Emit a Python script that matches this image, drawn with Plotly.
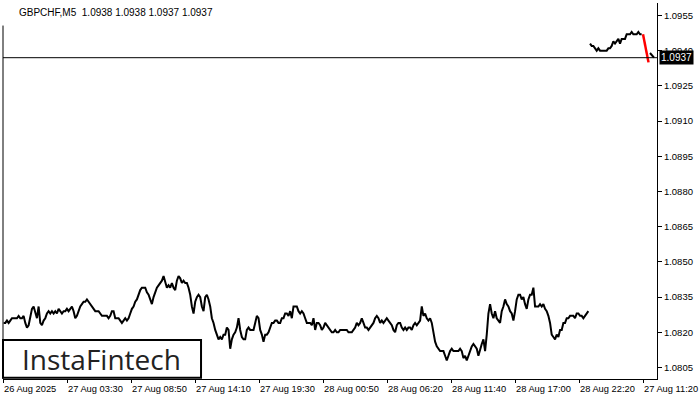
import plotly.graph_objects as go

# ---------------- data ----------------
symbol_title = "GBPCHF,M5  1.0938 1.0938 1.0937 1.0937"
last_price = 1.0937

# chart is read every 5/3 bars (one bar = 5 minutes)
SAMPLE_BARS = 5 / 3

# main block of prices (26 Aug 2025 -> 28 Aug 22:20)
main_close = [
    1.0824, 1.0824, 1.0825, 1.0824, 1.0825, 1.0826, 1.0826, 1.0826, 1.0826, 1.0827,
    1.0826, 1.0826, 1.0827, 1.0824, 1.0822, 1.0823, 1.0826, 1.0830, 1.0831, 1.0828,
    1.0826, 1.0831, 1.0824, 1.0823, 1.0825, 1.0826, 1.0828, 1.0829, 1.0828, 1.0829,
    1.0828, 1.0829, 1.0828, 1.0830, 1.0829, 1.0828, 1.0829, 1.0829, 1.0830, 1.0829,
    1.0830, 1.0831, 1.0829, 1.0826, 1.0827, 1.0829, 1.0831, 1.0832, 1.0833, 1.0833,
    1.0834, 1.0833, 1.0832, 1.0831, 1.0830, 1.0829, 1.0829, 1.0829,
    # 27 Aug 03:30 area
    1.0828, 1.0827, 1.0827, 1.0827, 1.0827, 1.0826, 1.0827, 1.0829, 1.0829, 1.0826,
    1.0826, 1.0826, 1.0825, 1.0824, 1.0825, 1.0826, 1.0825, 1.0826, 1.0828, 1.0830,
    1.0831, 1.0833, 1.0834, 1.0836, 1.0838, 1.0839, 1.0839, 1.0839, 1.0837, 1.0836,
    1.0834, 1.0832, 1.0835, 1.0837, 1.0839, 1.0840, 1.0841, 1.0842, 1.0844, 1.0841,
    1.0839, 1.0840, 1.0839, 1.0841, 1.0839, 1.0838, 1.0842, 1.0844, 1.0843, 1.0841,
    1.0842, 1.0841, 1.0841, 1.0839, 1.0836, 1.0831, 1.0828, 1.0833, 1.0835, 1.0836,
    1.0835,
    # 27 Aug 14:10 area
    1.0831, 1.0829, 1.0835, 1.0836, 1.0834, 1.0831, 1.0826, 1.0824, 1.0821, 1.0819,
    1.0817, 1.0818, 1.0817, 1.0819, 1.0819, 1.0822, 1.0821, 1.0813, 1.0817, 1.0819,
    1.0820, 1.0822, 1.0826, 1.0821, 1.0818, 1.0817, 1.0817, 1.0821, 1.0822, 1.0821,
    1.0821, 1.0821, 1.0824, 1.0827, 1.0826, 1.0821, 1.0819, 1.0816, 1.0819, 1.0819,
    1.0820, 1.0822, 1.0824, 1.0824, 1.0825, 1.0825, 1.0824, 1.0824, 1.0826, 1.0826,
    1.0828, 1.0828, 1.0827, 1.0829, 1.0826, 1.0831, 1.0831, 1.0831, 1.0829, 1.0828,
    # 28 Aug 00:50 area
    1.0829, 1.0828, 1.0826, 1.0824, 1.0824, 1.0824, 1.0823, 1.0826, 1.0821, 1.0824,
    1.0824, 1.0823, 1.0821, 1.0822, 1.0824, 1.0823, 1.0822, 1.0821, 1.0820, 1.0820,
    1.0821, 1.0820, 1.0820, 1.0821, 1.0821, 1.0821, 1.0821, 1.0821, 1.0820, 1.0820,
    1.0820, 1.0821, 1.0822, 1.0824, 1.0823, 1.0824, 1.0826, 1.0824, 1.0822, 1.0822,
    1.0821, 1.0822, 1.0823, 1.0824, 1.0826, 1.0827, 1.0826, 1.0824, 1.0825, 1.0824,
    1.0825, 1.0826, 1.0825, 1.0824, 1.0823, 1.0821, 1.0820, 1.0823, 1.0824, 1.0824,
    # 28 Aug 06:20 area
    1.0822, 1.0821, 1.0822, 1.0821, 1.0822, 1.0822, 1.0821, 1.0823, 1.0824, 1.0823,
    1.0824, 1.0825, 1.0831, 1.0827, 1.0828, 1.0826, 1.0825, 1.0826, 1.0824, 1.0819,
    1.0816, 1.0814, 1.0813, 1.0812, 1.0812, 1.0812, 1.0810, 1.0808, 1.0810, 1.0812,
    1.0813, 1.0812, 1.0812, 1.0812, 1.0812, 1.0813, 1.0812, 1.0809, 1.0810, 1.0808,
    1.0810, 1.0812, 1.0814, 1.0815, 1.0814, 1.0813, 1.0810, 1.0813, 1.0815, 1.0817,
    1.0812, 1.0819, 1.0828, 1.0832, 1.0828, 1.0826, 1.0829, 1.0826, 1.0825, 1.0824,
    # 28 Aug 17:00 area
    1.0829, 1.0831, 1.0834, 1.0832, 1.0831, 1.0829, 1.0828, 1.0825, 1.0829, 1.0834,
    1.0836, 1.0836, 1.0834, 1.0835, 1.0832, 1.0830, 1.0834, 1.0836, 1.0836, 1.0839,
    1.0831, 1.0831, 1.0831, 1.0832, 1.0831, 1.0832, 1.0830, 1.0829, 1.0827, 1.0824,
    1.0819, 1.0818, 1.0817, 1.0819, 1.0818, 1.0821, 1.0821, 1.0824, 1.0824, 1.0826,
    1.0826, 1.0827, 1.0827, 1.0827, 1.0826, 1.0828, 1.0828, 1.0827, 1.0827, 1.0826,
    1.0827, 1.0828, 1.0829,
]

# upper block at the right edge
top_close = [
    1.0943, 1.0942, 1.0942, 1.0941, 1.0940, 1.0941, 1.0940, 1.0940, 1.0940, 1.0940,
    1.0940, 1.0941, 1.0941, 1.0942, 1.0944, 1.0943, 1.0944, 1.0945, 1.0943, 1.0945,
    1.0945, 1.0945, 1.0947, 1.0947, 1.0947, 1.0948, 1.0947, 1.0947, 1.0947, 1.0948,
    1.0947, 1.0947,
]

# red highlighted drop and the last bars (x in bars)
red_bar = [640, 645.5]
red_price = [1.0947, 1.0935]
last_bar = [647, 649, 651]
last_close = [1.0939, 1.0938, 1.0937]

# time axis labels, one every 64 bars
time_labels = ["26 Aug 2025", "27 Aug 03:30", "27 Aug 08:50", "27 Aug 14:10",
               "27 Aug 19:30", "28 Aug 00:50", "28 Aug 06:20", "28 Aug 11:40",
               "28 Aug 17:00", "28 Aug 22:20", "27 Aug 11:20"]
LABEL_EVERY = 64

price_ticks = [1.0805, 1.0820, 1.0835, 1.0850, 1.0865, 1.0880,
               1.0895, 1.0910, 1.0925, 1.0940, 1.0955]

logo_text = "InstaFintech"

# ---------------- figure ----------------
FONT = "Liberation Sans, Arial, sans-serif"

main_x = [(k + 0.2) * SAMPLE_BARS for k in range(len(main_close))]
top_x = [(len(main_close) + j + 0.2) * SAMPLE_BARS for j in range(len(top_close))]

fig = go.Figure()
line_style = dict(color="black", width=2)
fig.add_trace(go.Scatter(x=main_x, y=main_close, mode="lines", line=line_style,
                         hoverinfo="skip", showlegend=False))
fig.add_trace(go.Scatter(x=top_x, y=top_close, mode="lines", line=line_style,
                         hoverinfo="skip", showlegend=False))
fig.add_trace(go.Scatter(x=last_bar, y=last_close, mode="lines", line=line_style,
                         hoverinfo="skip", showlegend=False))
fig.add_trace(go.Scatter(x=red_bar, y=red_price, mode="lines",
                         line=dict(color="#ff0000", width=2.5),
                         hoverinfo="skip", showlegend=False))

tick_bars = [i * LABEL_EVERY for i in range(len(time_labels))]

fig.update_layout(
    width=700, height=400,
    margin=dict(l=3, r=43, t=3, b=21),
    paper_bgcolor="white", plot_bgcolor="white",
    font=dict(family=FONT, size=10, color="black"),
    showlegend=False,
    xaxis=dict(range=[-0.3, 654], showgrid=False, zeroline=False,
               showline=True, linecolor="black", linewidth=1,
               tickvals=tick_bars, ticktext=[""] * len(tick_bars),
               ticks="outside", ticklen=3, tickcolor="black", tickwidth=1),
    yaxis=dict(range=[1.08001, 1.09603], side="right", showgrid=False,
               zeroline=False, showline=True, linecolor="black", linewidth=1,
               tickvals=price_ticks, tickformat=".4f",
               ticks="outside", ticklen=4, tickcolor="black", tickwidth=1,
               tickfont=dict(family=FONT, size=9.5, color="black")),
)

# left border of the chart frame
fig.add_shape(type="line", xref="paper", yref="paper", x0=0, x1=0, y0=0, y1=0.94,
              line=dict(color="black", width=1))
# current price line
fig.add_shape(type="line", xref="paper", yref="y", x0=0, x1=1,
              y0=last_price, y1=last_price, line=dict(color="black", width=1))

# time labels (left aligned at their ticks)
for b, t in zip(tick_bars, time_labels):
    fig.add_annotation(x=b, y=0, xref="x", yref="paper", text=t, showarrow=False,
                       xanchor="left", yanchor="top", xshift=-1, yshift=-3,
                       font=dict(family=FONT, size=9.3, color="black"))

# current price box
fig.add_annotation(x=1, y=last_price, xref="paper", yref="y",
                   text=f"{last_price:.4f}", showarrow=False,
                   xanchor="left", yanchor="middle", xshift=2,
                   bgcolor="black", borderpad=1,
                   font=dict(family=FONT, size=10, color="white"))

# title
fig.add_annotation(x=0, y=1, xref="paper", yref="paper", text=symbol_title,
                   showarrow=False, xanchor="left", yanchor="top",
                   xshift=14, yshift=-2,
                   font=dict(family=FONT, size=10, color="black"))

# logo box
fig.add_shape(type="rect", xref="paper", yref="paper",
              x0=0.0, x1=0.3028, y0=0.003, y1=0.1037,
              line=dict(color="black", width=2), fillcolor="white", layer="above")
fig.add_annotation(x=0.151, y=0.053, xref="paper", yref="paper", text=logo_text,
                   showarrow=False, xanchor="center", yanchor="middle",
                   font=dict(family="Open Sans", size=28, color="#222222"))

fig.write_html("out.html",
               config={"displayModeBar": False},
               post_script="document.body.style.margin='0px';")
